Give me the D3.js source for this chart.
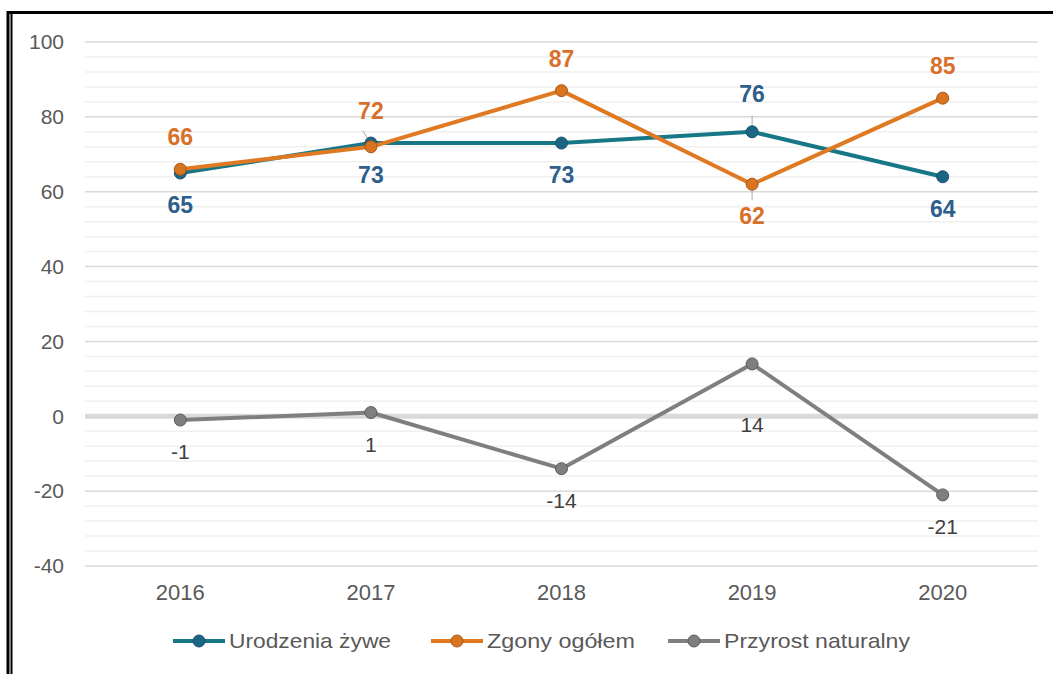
<!DOCTYPE html>
<html>
<head>
<meta charset="utf-8">
<script src="https://cdn.jsdelivr.net/npm/d3@7"></script>
<style>
  body { margin: 0; background: #fff; }
  svg text { font-family: "Liberation Sans", Arial, sans-serif; }
</style>
</head>
<body>
<div id="chart"></div>
<script>
// dane z wykresu
var years = ["2016", "2017", "2018", "2019", "2020"];
var urodzenia = [65, 73, 73, 76, 64];
var zgony = [66, 72, 87, 62, 85];
var przyrost = [-1, 1, -14, 14, -21];
var seriesNames = ["Urodzenia żywe", "Zgony ogółem", "Przyrost naturalny"];
var yTicks = [-40, -20, 0, 20, 40, 60, 80, 100];

// where the value labels go (above / below the point)
var urodzeniaPos = ["below", "below", "below", "above", "below"];
var zgonyPos = ["above", "above", "above", "below", "above"];
var przyrostPos = ["below", "below", "below", "below", "below"];

var W = 1053, H = 674;
var margin = {t: 42, r: 15, b: 108, l: 85};

var svg = d3.select("#chart").append("svg")
  .attr("width", W)
  .attr("height", H);

// ramka
svg.append("line").attr("x1", 7).attr("x2", W).attr("y1", 12.5).attr("y2", 12.5)
  .attr("stroke", "#000").attr("stroke-width", 3);
svg.append("line").attr("x1", 8).attr("x2", 8).attr("y1", 11).attr("y2", H)
  .attr("stroke", "#000").attr("stroke-width", 3);
svg.append("line").attr("x1", 11.5).attr("x2", 11.5).attr("y1", 14).attr("y2", H)
  .attr("stroke", "#000").attr("stroke-width", 2);

var x = d3.scaleBand()
  .domain(years)
  .range([margin.l, W - margin.r]);

var y = d3.scaleLinear()
  .domain([-40, 100])
  .range([H - margin.b, margin.t]);

// minor gridlines every 4
var g = svg.append("g");
g.selectAll(".minor")
  .data(d3.range(-40, 101, 4).filter(function(v) { return v % 20 != 0; }))
  .enter().append("line")
  .attr("x1", margin.l).attr("x2", W - margin.r)
  .attr("y1", function(d) { return y(d); })
  .attr("y2", function(d) { return y(d); })
  .attr("stroke", "#f0f0f0")
  .attr("stroke-width", 1.5);

g.selectAll(".major")
  .data(yTicks.filter(function(v) { return v != 0; }))
  .enter().append("line")
  .attr("x1", margin.l).attr("x2", W - margin.r)
  .attr("y1", function(d) { return y(d); })
  .attr("y2", function(d) { return y(d); })
  .attr("stroke", "#d9d9d9")
  .attr("stroke-width", 1.5);

// zero line thick
g.append("line")
  .attr("x1", margin.l).attr("x2", W - margin.r)
  .attr("y1", y(0)).attr("y2", y(0))
  .attr("stroke", "#d9d9d9")
  .attr("stroke-width", 5);

// y axis labels (plain hyphen like the original)
var yAxis = d3.axisLeft(y).tickValues(yTicks).tickSize(0).tickPadding(21)
  .tickFormat(function(d) { return String(d); });
var ya = svg.append("g")
  .attr("transform", "translate(" + margin.l + ",0)")
  .call(yAxis);
ya.select(".domain").remove();
ya.selectAll("text")
  .attr("fill", "#595959")
  .style("font-size", "21px");

var xAxis = d3.axisBottom(x).tickSize(0).tickPadding(18);
var xa = svg.append("g")
  .attr("transform", "translate(0," + y(-40) + ")")
  .call(xAxis);
xa.select(".domain").remove();
xa.selectAll("text")
  .attr("fill", "#595959")
  .style("font-size", "22px");

var series = [
  {name: seriesNames[0], values: urodzenia, pos: urodzeniaPos, line: "#177787", fill: "#1a6683", stroke: "#1e4f74", label: "#2e5e8c", bold: true},
  {name: seriesNames[1], values: zgony, pos: zgonyPos, line: "#e07a22", fill: "#d8731f", stroke: "#a95714", label: "#d8702a", bold: true},
  {name: seriesNames[2], values: przyrost, pos: przyrostPos, line: "#7f7f7f", fill: "#7f7f7f", stroke: "#5a5a5a", label: "#404040", bold: false}
];

var cx = function(i) { return x(years[i]) + x.bandwidth() / 2; };

var line = d3.line()
  .x(function(d, i) { return cx(i); })
  .y(function(d) { return y(d); });

// leader lines (drawn under the series)
var leaders = svg.append("g");
leaders.append("line")
  .attr("x1", cx(3)).attr("x2", cx(3))
  .attr("y1", y(76) - 16).attr("y2", y(76) - 3)
  .attr("stroke", "#a6a6a6").attr("stroke-width", 1);
leaders.append("line")
  .attr("x1", cx(3)).attr("x2", cx(3))
  .attr("y1", y(62) + 3).attr("y2", y(62) + 16)
  .attr("stroke", "#a6a6a6").attr("stroke-width", 1);
leaders.append("line")
  .attr("x1", cx(1) - 8).attr("x2", cx(1))
  .attr("y1", y(72) - 16).attr("y2", y(72) - 3)
  .attr("stroke", "#a6a6a6").attr("stroke-width", 1);

series.forEach(function(s) {
  svg.append("path")
    .datum(s.values)
    .attr("d", line)
    .attr("fill", "none")
    .attr("stroke", s.line)
    .attr("stroke-width", 4)
    .attr("stroke-linejoin", "round");

  svg.selectAll(null)
    .data(s.values)
    .enter().append("circle")
    .attr("cx", function(d, i) { return cx(i); })
    .attr("cy", function(d) { return y(d); })
    .attr("r", 6)
    .attr("fill", s.fill)
    .attr("stroke", s.stroke)
    .attr("stroke-width", 1);
});

// value labels
series.forEach(function(s) {
  svg.selectAll(null)
    .data(s.values)
    .enter().append("text")
    .attr("x", function(d, i) { return cx(i); })
    .attr("y", function(d, i) {
      var off = s.pos[i] == "above" ? -32 : 32;
      if (!s.bold && d == 14) off = 61;
      if (d == 76) off = off - 6;
      if (d == 72) off = off - 4;
      return y(d) + off;
    })
    .attr("dy", "0.35em")
    .attr("text-anchor", "middle")
    .attr("fill", s.label)
    .style("font-size", s.bold ? "23px" : "21px")
    .style("font-weight", s.bold ? "bold" : "normal")
    .text(function(d) { return d; });
});

// legenda
var legendX = [173, 431, 668];
var legendTextW = [162, 148, 186];
var legend = svg.append("g").attr("transform", "translate(0,641)");
series.forEach(function(s, i) {
  var lg = legend.append("g").attr("transform", "translate(" + legendX[i] + ",0)");
  lg.append("line").attr("x1", 0).attr("x2", 52).attr("y1", 0).attr("y2", 0)
    .attr("stroke", s.line).attr("stroke-width", 4);
  lg.append("circle").attr("cx", 26).attr("cy", 0).attr("r", 6)
    .attr("fill", s.fill).attr("stroke", s.stroke);
  lg.append("text").attr("x", 56).attr("y", 0).attr("dy", "0.35em")
    .attr("fill", "#595959")
    .style("font-size", "21px")
    .attr("textLength", legendTextW[i])
    .attr("lengthAdjust", "spacingAndGlyphs")
    .text(s.name);
});
</script>
</body>
</html>
